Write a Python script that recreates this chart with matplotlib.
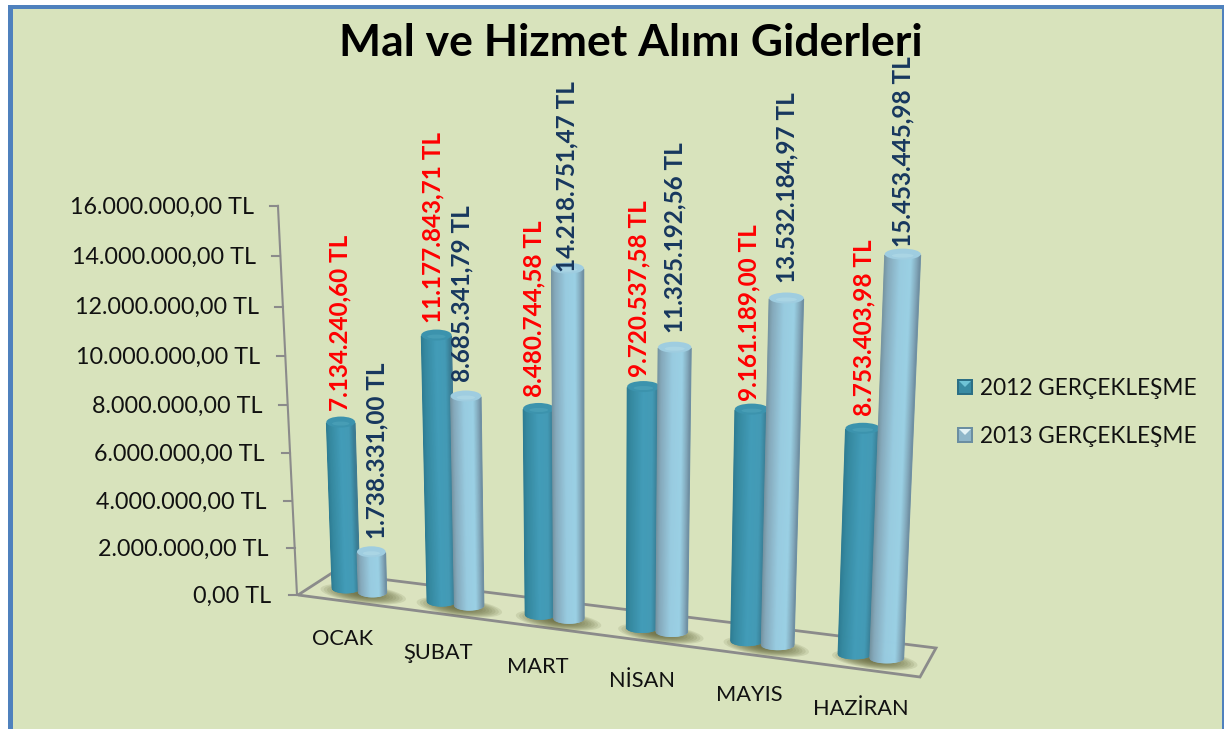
import numpy as np
import matplotlib
matplotlib.use("Agg")
import matplotlib.pyplot as plt
from matplotlib.collections import PolyCollection
from matplotlib.colors import LinearSegmentedColormap
from matplotlib.patches import Ellipse, Polygon, Rectangle

# Data
months = ['OCAK', 'ŞUBAT', 'MART', 'NİSAN', 'MAYIS', 'HAZİRAN']
gider_2012 = [7134240.60, 11177843.71, 8480744.58, 9720537.58, 9161189.00, 8753403.98]
gider_2013 = [1738331.00, 8685341.79, 14218751.47, 11325192.56, 13532184.97, 15453445.98]
series_names = ['2012 GERÇEKLEŞME', '2013 GERÇEKLEŞME']
axis_ticks = [0, 2000000, 4000000, 6000000, 8000000, 10000000, 12000000, 14000000, 16000000]

FONT = 'Lato'
BG = '#d8e3bc'
BLUE = '#4f81bd'
GREY = '#8b8b8b'

fig = plt.figure(figsize=(12.24, 7.29), dpi=100, facecolor='white')
ax = fig.add_axes([0, 0, 1, 1])
ax.set_xlim(0, 1224)
ax.set_ylim(729, 0)
ax.axis('off')

# Slide background and blue frame
ax.add_patch(Rectangle((8, 5), 1216, 724, fc=BLUE, ec='none', zorder=0))
ax.add_patch(Rectangle((12.5, 8.5), 1209, 721, fc=BG, ec='none', zorder=0.5))


# Fake 3D: where things land on the page
def money(v):
    s = f'{v:,.2f}'.replace(',', '#').replace('.', ',').replace('#', '.')
    return s + ' TL'


def wall_y(v):
    m = v / 1e6
    return 595 - m * (23.2 + 0.07 * m)


def wall_x(v):
    return 297 - 1.19 * v / 1e6


def bar_geom(i, j, v):
    m = v / 1e6
    bx = 346 + 94 * i + 1.55 * i ** 2 + j * (26.5 + 1.1 * i)
    low = 593 + 13.2 * i + 4 * j
    w = 28 + 1.1 * i + j * 0.5
    ry = 5.0
    lean = 0.0029 if bx < 600 else 0.0036
    cx_top = bx + lean * (bx - 600) * m
    yc_bot = low - ry
    yc_top = yc_bot - m * (23.4 + 0.5 * i + 0.3 * j)
    w_top = w * (1 + 0.004 * m)
    return bx, yc_bot, w, cx_top, yc_top, w_top, ry


# Floor and wall
corners_x = [298, 920, 936, 332]
corners_y = [595, 677, 648, 573]
ax.add_patch(Polygon(list(zip(corners_x, corners_y)), closed=True, fc='#dbe3bf', ec=GREY, lw=2, zorder=1))
ax.plot([wall_x(axis_ticks[0]), wall_x(axis_ticks[-1])], [wall_y(axis_ticks[0]), wall_y(axis_ticks[-1])],
        color=GREY, lw=1.5, zorder=1.2)
for tick in axis_ticks:
    x, y = wall_x(tick), wall_y(tick)
    ax.plot([x - 8, x], [y, y], color=GREY, lw=1.5, zorder=1.2)
    ax.text(x - 26 + tick / 1e6 * 0.15, y + 1, money(tick), ha='right', va='center', fontsize=16.8,
            family=FONT, color='#111111')

# Shadows on the floor
for i in range(len(months)):
    x0 = bar_geom(i, 0, 0)
    x1 = bar_geom(i, 1, 0)
    sx = (x0[0] + x1[0]) / 2 + 4
    sy = (x0[1] + x1[1]) / 2 + 4
    for k in range(12):
        grow = 1 - k / 12
        ax.add_patch(Ellipse((sx, sy), 78 * grow + 8, 16 * grow + 2, angle=7, fc='#5f6236', ec='none',
                             alpha=0.13, zorder=1.5))

# Bars
ramps = [
    LinearSegmentedColormap.from_list('b12', [(0, '#2d7b92'), (0.12, '#35889f'), (0.5, '#429cb8'),
                                              (0.8, '#439ab5'), (0.94, '#3a8199'), (1, '#3f7a90')]),
    LinearSegmentedColormap.from_list('b13', [(0, '#74929f'), (0.12, '#85a9bb'), (0.45, '#98cbe0'),
                                              (0.75, '#9ad0e4'), (0.93, '#7fa3b6'), (1, '#6c8c9f')]),
]
caps = [('#3c93ad', '#4fa5bb'), ('#9fcde0', '#b2dbe8')]
z = 3.0
for i in range(len(months)):
    for j, values in enumerate([gider_2012, gider_2013]):
        bx, yb, w, tx, yt, wt, ry = bar_geom(i, j, values[i])
        t = np.linspace(-1, 1, 41)
        polys, cols = [], []
        for a, b in zip(t[:-1], t[1:]):
            xa0, xb0 = bx + a * w / 2, bx + b * w / 2
            xa1, xb1 = tx + a * wt / 2, tx + b * wt / 2
            polys.append([(xa0, yb + ry * np.sqrt(1 - a * a)), (xb0, yb + ry * np.sqrt(1 - b * b)),
                          (xb1, yt + 2), (xa1, yt + 2)])
            cols.append(ramps[j]((a + b + 2) / 4))
        ax.add_collection(PolyCollection(polys, facecolors=cols, edgecolors=cols, linewidths=0.6, zorder=z))
        ax.add_patch(Ellipse((tx, yt + 1), wt, ry * 2.2, fc=caps[j][0], ec='none', zorder=z + 0.1))
        ax.add_patch(Ellipse((tx, yt + 2.5), wt * 0.6, ry * 0.8, fc=caps[j][1], ec='none', alpha=0.6, zorder=z + 0.2))
        z += 1

# Data labels sit above the bars
label_dx = [[-1, -3, -5, -4, -3, 1], [6, -4, -1, 0, 1, 0]]
label_gap = [[10, 11, 10, 9, 7, 11], [12, 13, -5, 13, 14, 6]]
label_cols = ['#ff0000', '#17375e']
for j, values in enumerate([gider_2012, gider_2013]):
    for i, v in enumerate(values):
        bx, yb, w, tx, yt, wt, ry = bar_geom(i, j, v)
        ax.text(tx + label_dx[j][i], yt - label_gap[j][i], money(v), rotation=90, ha='center', va='bottom',
                fontsize=17.5, fontweight='bold', family=FONT, color=label_cols[j], zorder=50)

# Category labels
for i, m in enumerate(months):
    bx = bar_geom(i, 0, 0)[0]
    ax.text(bx - 3.5 + 0.37 * i ** 2, 639 + 14 * i, m, ha='center', va='center', fontsize=15.7,
            family=FONT, color='#111111')

# Title
ax.text(631, 43, 'Mal ve Hizmet Alımı Giderleri', ha='center', va='center', fontsize=32, fontweight='bold',
        family=FONT, color='black', zorder=40)

# Legend with the little bevelled squares
legend_y = [387, 435]
box_cols = [('#398ba3', '#6fc3d6', '#2c6f85'), ('#8fb6c9', '#e4f2f6', '#6b8ea1')]
for j, name in enumerate(series_names):
    y = legend_y[j]
    ax.add_patch(Rectangle((957, y - 8), 16, 16, fc=box_cols[j][2], ec='none', zorder=5))
    ax.add_patch(Rectangle((959, y - 6), 12, 12, fc=box_cols[j][0], ec='none', zorder=5.1))
    ax.add_patch(Polygon([(959, y - 6), (971, y - 6), (965, y)], closed=True, fc=box_cols[j][1], ec='none', zorder=5.2))
    ax.text(980, y + 1, name, ha='left', va='center', fontsize=16.3, family=FONT, color='#111111')

fig.savefig('out.png', dpi=100)
